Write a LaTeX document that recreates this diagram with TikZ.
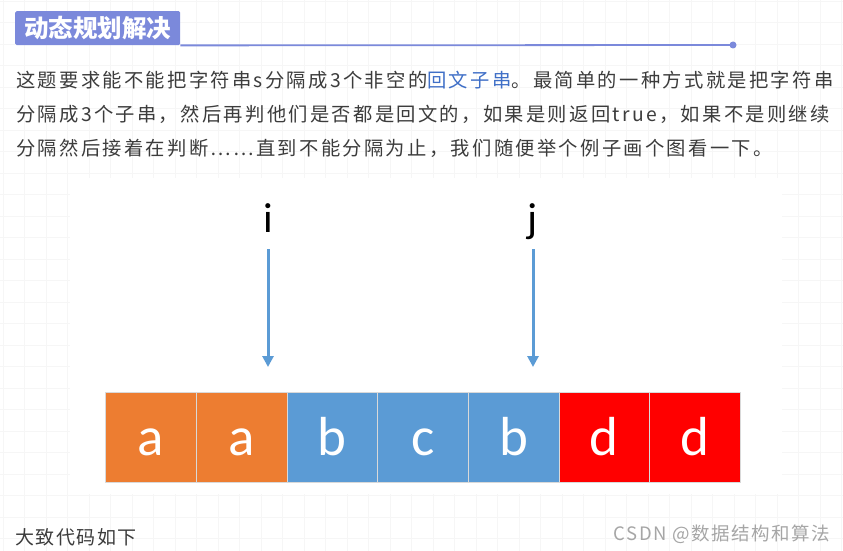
\documentclass[tikz,border=0pt]{standalone}
\usepackage{fontspec}
\usepackage{tikz}
\usetikzlibrary{arrows.meta,positioning}
\setmainfont{Noto Sans CJK SC}
\newfontfamily\bodyfont[LetterSpace=12]{Noto Sans CJK SC}
\newfontfamily\notefont[LetterSpace=8]{Noto Sans CJK SC}
\newfontfamily\wmfont[LetterSpace=8]{Noto Sans CJK SC}
\newfontfamily\cellfont{Carlito}
\definecolor{headviolet}{HTML}{7B89DB}
\definecolor{bodygray}{HTML}{3C3C3C}
\definecolor{linkblue}{HTML}{3F6FC7}
\definecolor{cellorange}{HTML}{ED7D31}
\definecolor{cellblue}{HTML}{5B9BD5}
\definecolor{cellred}{HTML}{FF0000}
\definecolor{sepgray}{HTML}{D9D9D9}
\definecolor{wmgray}{HTML}{A6A6A6}
\definecolor{gridgray}{HTML}{F6F6F6}

\begin{document}
\begin{tikzpicture}[x=1pt,y=-1pt,
  gridline/.style={gridgray,line width=0.7pt},
  headbox/.style={fill=headviolet,text=white,font=\fontsize{24.5}{24.5}\selectfont\bfseries,minimum width=165pt,minimum height=34pt,inner sep=0pt,rounded corners=1.5pt},
  para/.style={anchor=west,inner sep=0pt,text=bodygray,font=\bodyfont\fontsize{19.3}{19.3}\selectfont},
  note/.style={anchor=west,inner sep=0pt,text=bodygray,font=\notefont\fontsize{19}{19}\selectfont},
  wmtext/.style={anchor=east,inner sep=0pt,text=wmgray,font=\wmfont\fontsize{18.5}{18.5}\selectfont},
  ptrlabel/.style={inner sep=0pt,text depth=0pt,font=\cellfont\fontsize{42}{42}\selectfont},
  ptr/.style={cellblue,line width=3pt,-{Triangle[width=11pt,length=11pt]},shorten <=17pt},
  cell/.style={draw=sepgray,line width=0.8pt,minimum width=90.7pt,minimum height=90pt,inner sep=0pt,text height=36pt,text depth=0pt,text=white,font=\cellfont\fontsize{55}{55}\selectfont}]
\useasboundingbox (0,0) rectangle (843,551);
\fill[white] (0,0) rectangle (843,551);
\foreach \gx in {3,24.5,...,843} \draw[gridline] (\gx,0) -- (\gx,551);
\foreach \gy in {1,22.5,...,551} \draw[gridline] (0,\gy) -- (843,\gy);
\fill[white] (70,178) rectangle (782,494);

\node[headbox,anchor=north west] (head) at (15,11) {动态规划解决};
\coordinate (headend) at (733,45);
\draw[headviolet,line width=1.8pt] (head.south east) -- (headend);
\fill[headviolet] (headend) circle (3.5pt);

\node[para] (line1) at (16,80) {这题要求能不能把字符串s分隔成3个非空的{\color{linkblue}回文子串}。最简单的一种方式就是把字符串};
\node[para] (line2) at (16,114) {分隔成3个子串，然后再判他们是否都是回文的，如果是则返回true，如果不是则继续};
\node[para] (line3) at (16,148) {分隔然后接着在判断……直到不能分隔为止，我们随便举个例子画个图看一下。};

\node[ptrlabel,anchor=base] (lbli) at (268,232) {i};
\node[ptrlabel,anchor=base] (lblj) at (533,232) {j};
\coordinate (tipi) at (268,367);
\coordinate (tipj) at (533,367);
\draw[ptr] (lbli) -- (tipi);
\draw[ptr] (lblj) -- (tipj);

\foreach \ch/\col [count=\k] in {a/cellorange,a/cellorange,b/cellblue,c/cellblue,b/cellblue,d/cellred,d/cellred}
  \node[cell,fill=\col] (c\k) at ({105.5+90.7*(\k-0.5)},437) {\ch};

\node[note] (codehint) at (15,537) {大致代码如下};
\node[wmtext] (wm) at (830,534) {CSDN @数据结构和算法};
\end{tikzpicture}
\end{document}
